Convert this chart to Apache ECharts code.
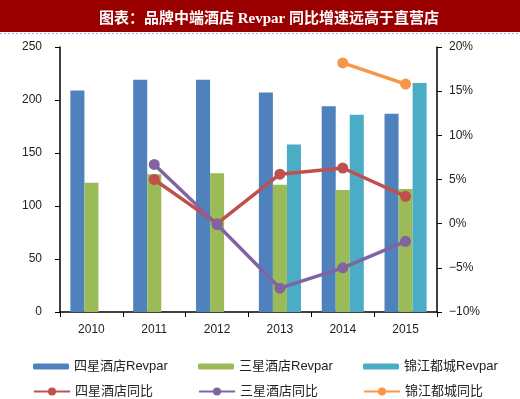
<!DOCTYPE html>
<html>
<head>
<meta charset="utf-8">
<script src="https://cdn.jsdelivr.net/npm/echarts@6/dist/echarts.min.js"></script>
<style>
html, body { margin: 0; padding: 0; background: #fff; }
#main { width: 520px; height: 399px; }
</style>
</head>
<body>
<div id="main"></div>
<script>
// 数据
var years = ['2010', '2011', '2012', '2013', '2014', '2015'];
var siXingRev = [209, 219, 219, 207, 194, 187];
var sanXingRev = [122, 130, 131, 120, 115, 116];
var jinJiangRev = [null, null, null, 158, 186, 216];
var siXingYoY = [null, 5.0, 0.0, 5.6, 6.3, 3.1];
var sanXingYoY = [null, 6.7, -0.1, -7.3, -5.0, -2.0];
var jinJiangYoY = [null, null, null, null, 18.2, 15.8];

var colors = ['#4F81BD', '#9BBB59', '#4BACC6', '#C0504D', '#8064A2', '#F79646'];
var names = ['四星酒店Revpar', '三星酒店Revpar', '锦江都城Revpar', '四星酒店同比', '三星酒店同比', '锦江都城同比'];

var myChart = echarts.init(document.getElementById('main'));

var axisLine = { show: true, lineStyle: { color: '#000', width: 1.5 } };
var axisLabelStyle = { color: '#222', fontSize: 12, fontFamily: 'Arial, Liberation Sans' };
var legendFont = { color: '#222', fontSize: 13, fontFamily: 'Liberation Sans, Noto Sans CJK SC' };

// 图例: 每项单独放置，排成3列2行
var legends = [];
var legendX = [28, 193, 358];
var legendY = [355, 380];
for (var i = 0; i < 6; i++) {
	legends.push({
		data: [names[i]],
		left: legendX[i % 3],
		top: legendY[Math.floor(i / 3)],
		itemWidth: 36,
		itemHeight: i < 3 ? 6 : 10,
		itemGap: 4,
		textStyle: legendFont
	});
}

function pct(v) {
	return (v < 0 ? '\u2212' + (-v) : v) + '%';
}

var series = [];
[siXingRev, sanXingRev, jinJiangRev].forEach(function (d, i) {
	series.push({
		name: names[i],
		type: 'bar',
		data: d,
		barGap: 0,
		barCategoryGap: '33%',
		itemStyle: { color: colors[i] }
	});
});
[siXingYoY, sanXingYoY, jinJiangYoY].forEach(function (d, i) {
	series.push({
		name: names[i + 3],
		type: 'line',
		yAxisIndex: 1,
		data: d,
		symbol: 'circle',
		symbolSize: 11,
		lineStyle: { width: 3.5, color: colors[i + 3] },
		itemStyle: { color: colors[i + 3] },
		z: 5
	});
});

var option = {
	animation: false,
	graphic: [
		{ type: 'rect', shape: { x: 0, y: 0, width: 520, height: 32 }, style: { fill: '#9A0000' } },
		{ type: 'line', shape: { x1: 0, y1: 33.5, x2: 520, y2: 33.5 }, style: { stroke: '#9FB3E0', lineWidth: 1, lineDash: [2, 2] } }
	],
	title: {
		text: '图表：品牌中端酒店 Revpar 同比增速远高于直营店',
		left: 264,
		textAlign: 'center',
		top: 7,
		textStyle: { color: '#fff', fontSize: 15, fontWeight: 'bold', fontFamily: 'Liberation Serif, Noto Sans CJK SC' }
	},
	legend: legends,
	grid: { left: 60, right: 83, top: 47, bottom: 87 },
	xAxis: {
		type: 'category',
		data: years,
		axisLine: axisLine,
		axisTick: { show: true, length: 5, lineStyle: { color: '#000' } },
		axisLabel: Object.assign({ margin: 12 }, axisLabelStyle)
	},
	yAxis: [{
		type: 'value',
		min: 0, max: 250, interval: 50,
		axisLine: axisLine,
		axisTick: { show: true, length: 5, lineStyle: { color: '#000' } },
		splitLine: { show: false },
		axisLabel: Object.assign({ margin: 18 }, axisLabelStyle)
	}, {
		type: 'value',
		min: -10, max: 20, interval: 5,
		axisLine: axisLine,
		axisTick: { show: true, length: 5, lineStyle: { color: '#000' } },
		splitLine: { show: false },
		axisLabel: Object.assign({ margin: 12, formatter: pct }, axisLabelStyle)
	}],
	series: series
};

myChart.setOption(option);
</script>
</body>
</html>
